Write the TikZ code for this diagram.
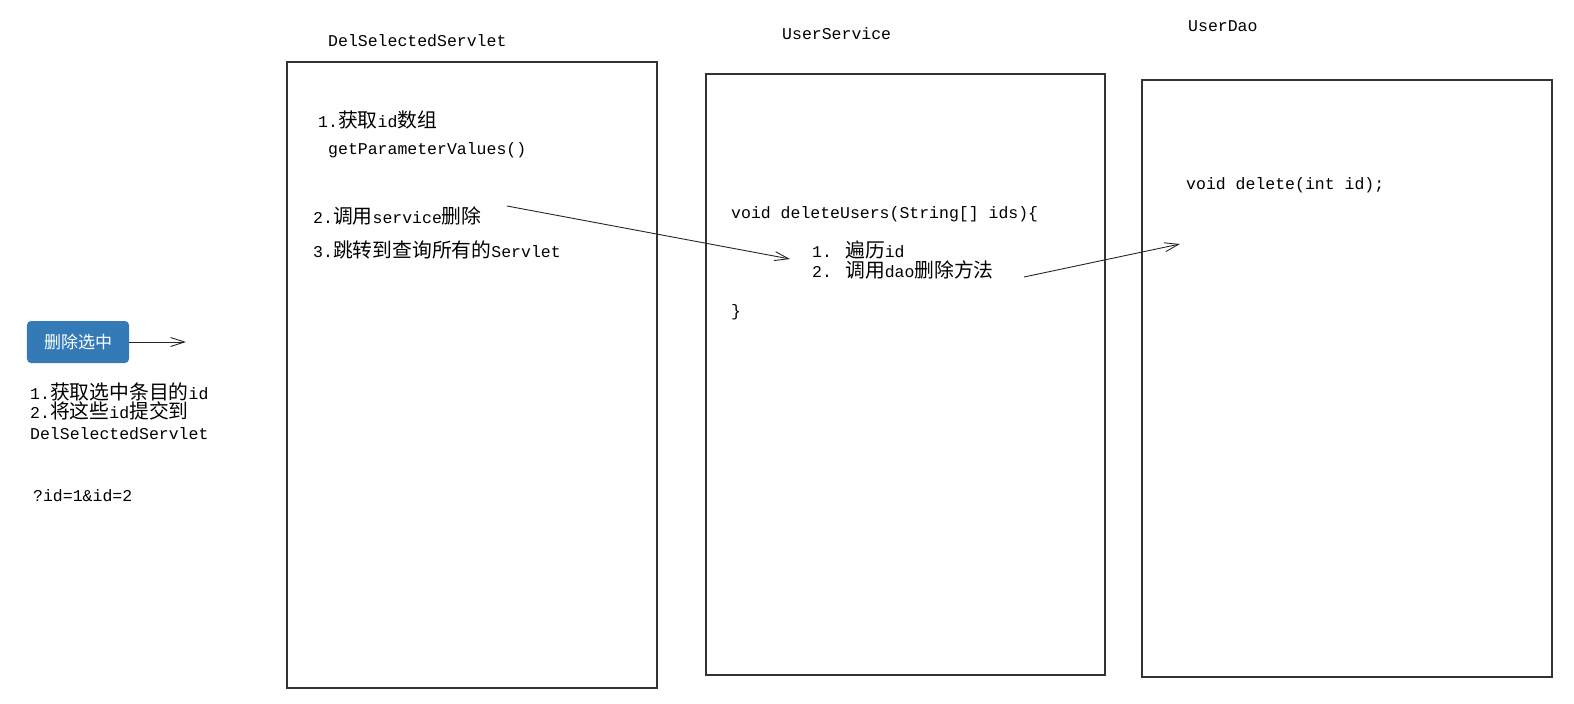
\documentclass[tikz,border=0pt]{standalone}
\usepackage{fontspec}
\setmainfont{Liberation Mono}
\newfontfamily\cjk[Scale=1.2]{Noto Sans CJK SC}
\newfontfamily\cjkbtn{Noto Sans CJK SC}
\usetikzlibrary{arrows.meta}
\newcommand{\zh}[1]{{\cjk #1}}
\definecolor{btnblue}{HTML}{337AB7}
\definecolor{boxline}{HTML}{333333}
\tikzset{
  txt/.style={anchor=base west, inner sep=0pt, font=\fontsize{16.5bp}{20bp}\selectfont},
  box/.style={draw=boxline, line width=1.2bp, inner sep=0pt},
  flow/.style={draw=black!85, line width=0.9bp, -{Straight Barb[length=14bp,width=9bp]}},
}
\begin{document}
\begin{tikzpicture}[x=1bp,y=-1bp]
\useasboundingbox (0,0) rectangle (1574,704);
% boxes
\node[box, minimum width=370bp, minimum height=626bp] (servlet) at (472,375) {};
\node[box, minimum width=399bp, minimum height=601bp] (service) at (905.5,374.5) {};
\node[box, minimum width=410bp, minimum height=597bp] (dao) at (1347,378.5) {};
% titles
\node[txt] (t1) at (328,47) {DelSelectedServlet};
\node[txt] (t2) at (782,40) {UserService};
\node[txt] (t3) at (1188,32) {UserDao};
% servlet texts
\node[txt] (s1) at (318,128) {1.\zh{获取}id\zh{数组}};
\node[txt] (s2) at (328,155) {getParameterValues()};
\node[txt] (s3) at (313,223) {2.\zh{调用}service\zh{删除}};
\node[txt] (s4) at (313,257) {3.\zh{跳转到查询所有的}Servlet};
% service texts
\node[txt] (v1) at (731,218) {void deleteUsers(String[] ids)\{};
\node[txt] (v2) at (812,257) {1. \zh{遍历}id};
\node[txt] (v3) at (812,277) {2. \zh{调用}dao\zh{删除方法}};
\node[txt] (v4) at (731,316) {\}};
% dao text
\node[txt] (d1) at (1186,189) {void delete(int id);};
% left side
\node[fill=btnblue, rounded corners=4bp, minimum width=102bp, minimum height=42bp, inner sep=0pt,
      text=white, font=\cjkbtn\fontsize{17bp}{19bp}\selectfont] (btn) at (78,342) {删除选中};
\coordinate (btnend) at (186,342);
\draw[flow] (btn.east) -- (btnend);
\node[txt] (l1) at (30,399) {1.\zh{获取选中条目的}id};
\node[txt] (l2) at (30,418) {2.\zh{将这些}id\zh{提交到}};
\node[txt] (l3) at (30,439) {DelSelectedServlet};
\node[txt] (l4) at (33,501) {?id=1\&id=2};
% arrows
\coordinate (a1s) at (507,206);
\coordinate (a1e) at (790,259);
\coordinate (a2s) at (1024,277);
\coordinate (a2e) at (1180,244);
\draw[flow] (a1s) -- (a1e);
\draw[flow] (a2s) -- (a2e);
\end{tikzpicture}
\end{document}
